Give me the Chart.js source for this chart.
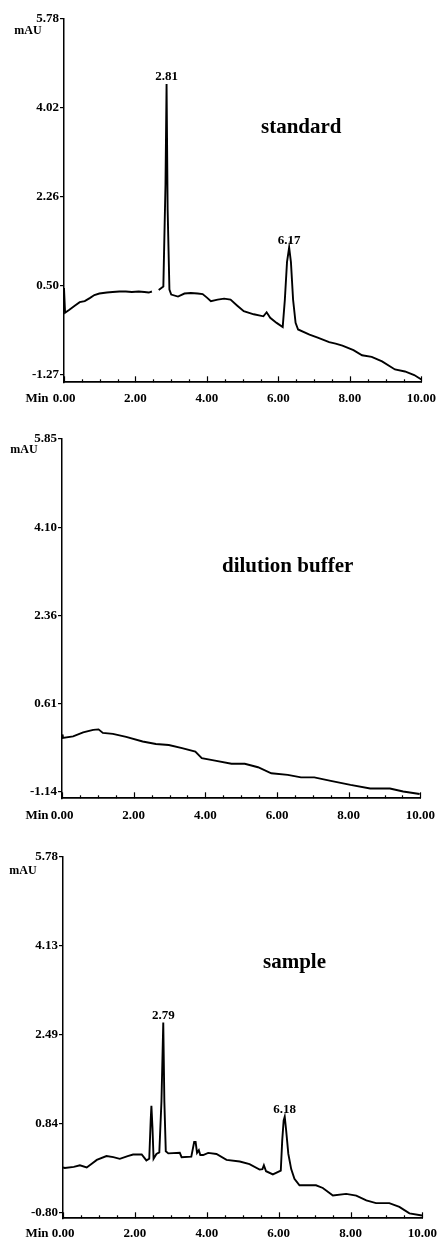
<!DOCTYPE html>
<html>
<head>
<meta charset="utf-8">
<script src="https://cdn.jsdelivr.net/npm/chart.js@4.4.1/dist/chart.umd.min.js"></script>
<style>
  html, body { margin: 0; padding: 0; background: #fff; }
  #wrap { position: relative; width: 445px; height: 1241px; overflow: hidden; }
  canvas { position: absolute; left: 0; }
</style>
</head>
<body>
<div id="wrap">
  <canvas id="c1" width="445" height="410" style="top:0px"></canvas>
  <canvas id="c2" width="445" height="416" style="top:410px"></canvas>
  <canvas id="c3" width="445" height="415" style="top:826px"></canvas>
</div>
<script>
// ---------- DATA ----------
const timeTicks = [0, 2, 4, 6, 8, 10];

// standard
const stdTime   = [0, 0.03, 0.15, 0.30, 0.44, 0.58, 0.72, 0.85, 0.99, 1.20, 1.36, 1.55, 1.73, 1.90, 2.09, 2.25, 2.37, 2.46, 2.55, 2.65, 2.78, 2.84, 2.87, 2.90, 2.95, 3.00, 3.19, 3.37, 3.55, 3.74, 3.88, 4.00, 4.11, 4.30, 4.48, 4.66, 4.85, 5.03, 5.31, 5.58, 5.67, 5.77, 5.95, 6.12, 6.18, 6.24, 6.30, 6.35, 6.41, 6.48, 6.55, 6.87, 7.10, 7.42, 7.60, 7.79, 8.10, 8.34, 8.61, 8.90, 9.26, 9.54, 9.80, 10.00];
const stdSignal = [0.45, -0.04, 0.02, 0.10, 0.17, 0.19, 0.25, 0.31, 0.34, 0.36, 0.37, 0.38, 0.38, 0.37, 0.38, 0.37, 0.36, 0.38, null, 0.41, 0.48, 2.50, 4.48, 2.00, 0.42, 0.32, 0.28, 0.34, 0.35, 0.34, 0.33, 0.26, 0.19, 0.22, 0.24, 0.22, 0.10, -0.01, -0.07, -0.11, -0.03, -0.14, -0.24, -0.32, 0.22, 0.96, 1.25, 0.96, 0.22, -0.24, -0.37, -0.47, -0.53, -0.62, -0.65, -0.69, -0.78, -0.88, -0.91, -1.00, -1.16, -1.20, -1.27, -1.36];
const stdTicks  = [5.78, 4.02, 2.26, 0.50, -1.27];
const stdPeakTimes  = [2.87, 6.30];
const stdPeakLabels = ['2.81', '6.17'];

// dilution buffer
const bufTime   = [0, 0.02, 0.31, 0.59, 0.87, 1.02, 1.14, 1.42, 1.79, 2.25, 2.62, 2.98, 3.35, 3.72, 3.90, 4.27, 4.73, 5.10, 5.47, 5.84, 6.30, 6.67, 7.04, 7.50, 8.05, 8.60, 9.15, 9.52, 9.98];
const bufSignal = [0.00, -0.07, -0.04, 0.04, 0.09, 0.10, 0.03, 0.01, -0.05, -0.14, -0.19, -0.21, -0.27, -0.34, -0.47, -0.52, -0.58, -0.58, -0.65, -0.77, -0.80, -0.85, -0.85, -0.92, -1.00, -1.07, -1.07, -1.13, -1.18];
const bufTicks  = [5.85, 4.10, 2.36, 0.61, -1.14];

// sample
const smpTime   = [0, 0.05, 0.30, 0.47, 0.66, 0.80, 0.94, 1.21, 1.40, 1.58, 1.80, 1.95, 2.19, 2.32, 2.40, 2.44, 2.46, 2.49, 2.52, 2.60, 2.68, 2.74, 2.79, 2.82, 2.86, 2.93, 3.25, 3.30, 3.57, 3.65, 3.69, 3.73, 3.78, 3.82, 3.90, 4.04, 4.27, 4.55, 4.92, 5.19, 5.47, 5.55, 5.59, 5.65, 5.84, 6.06, 6.10, 6.14, 6.17, 6.21, 6.27, 6.35, 6.44, 6.58, 7.04, 7.23, 7.51, 7.88, 8.16, 8.44, 8.71, 9.08, 9.36, 9.64, 9.99];
const smpSignal = [0.03, 0.02, 0.04, 0.07, 0.03, 0.10, 0.17, 0.24, 0.22, 0.19, 0.24, 0.27, 0.27, 0.16, 0.19, 0.90, 1.17, 0.76, 0.19, 0.28, 0.31, 1.26, 2.71, 1.26, 0.33, 0.29, 0.30, 0.22, 0.23, 0.50, 0.50, 0.30, 0.35, 0.26, 0.26, 0.30, 0.28, 0.17, 0.14, 0.09, -0.01, 0.00, 0.07, -0.04, -0.10, -0.03, 0.53, 0.90, 0.97, 0.71, 0.28, 0.00, -0.18, -0.30, -0.30, -0.35, -0.49, -0.46, -0.49, -0.58, -0.63, -0.63, -0.70, -0.82, -0.86];
const smpTicks  = [5.78, 4.13, 2.49, 0.84, -0.80];
const smpPeakTimes  = [2.79, 6.17];
const smpPeakLabels = ['2.79', '6.18'];

// ---------- DRAWING ----------
const SERIF = '"Liberation Serif", "Times New Roman", serif';

const annotPlugin = {
  id: 'annot',
  afterDraw(chart) {
    const o = chart.options.plugins.annot;
    const ctx = chart.ctx;
    const xs = chart.scales.x, ys = chart.scales.y;
    const area = chart.chartArea;
    ctx.save();
    ctx.fillStyle = '#000';
    ctx.strokeStyle = '#000';
    // inward minor / major ticks on time axis
    ctx.lineWidth = 1.2;
    for (let t = 0; t <= 10.001; t += 0.5) {
      const px = Math.round(xs.getPixelForValue(t)) + 0.5;
      const len = (Math.abs(t / 2 - Math.round(t / 2)) < 1e-6) ? 6 : 3;
      ctx.beginPath();
      ctx.moveTo(px, area.bottom);
      ctx.lineTo(px, area.bottom - len);
      ctx.stroke();
    }
    // peak labels
    ctx.font = 'bold 13px ' + SERIF;
    ctx.textAlign = 'center';
    ctx.textBaseline = 'alphabetic';
    (o.peakTimes || []).forEach((t, i) => {
      const idx = o.times.indexOf(t);
      const v = o.values[idx];
      ctx.fillText(o.peakLabels[i], xs.getPixelForValue(t), ys.getPixelForValue(v) - 4);
    });
    // title
    ctx.font = 'bold 21px ' + SERIF;
    ctx.textAlign = 'left';
    ctx.fillText(o.title, o.titleX, o.titleY);
    // mAU
    ctx.font = 'bold 12px ' + SERIF;
    ctx.textAlign = 'center';
    ctx.textBaseline = 'middle';
    ctx.fillText('mAU', o.mauX, area.top + o.mauDy);
    // Min
    ctx.font = 'bold 13px ' + SERIF;
    ctx.fillText('Min', 37, area.bottom + o.minDy);
    ctx.restore();
  }
};

function makeChart(id, cfg) {
  const pts = cfg.times.map((t, i) => ({ x: t, y: cfg.values[i] }));
  const canvas = document.getElementById(id);
  return new Chart(canvas, {
    type: 'line',
    data: {
      datasets: [{
        data: pts,
        borderColor: '#000',
        borderWidth: 1.9,
        pointRadius: 0,
        tension: 0,
        fill: false,
        spanGaps: false
      }]
    },
    options: {
      responsive: false,
      animation: false,
      devicePixelRatio: 1,
      layout: { padding: { left: 0, top: cfg.top, right: 445 - cfg.right, bottom: 0 } },
      plugins: {
        legend: { display: false },
        tooltip: { enabled: false },
        annot: {
          times: cfg.times, values: cfg.values,
          peakTimes: cfg.peakTimes, peakLabels: cfg.peakLabels,
          title: cfg.title, titleX: cfg.titleX, titleY: cfg.titleY,
          mauX: cfg.mauX, mauDy: cfg.mauDy, minDy: cfg.minDy
        }
      },
      scales: {
        x: {
          type: 'linear',
          min: 0, max: 10,
          afterBuildTicks: s => { s.ticks = timeTicks.map(v => ({ value: v })); },
          afterFit: s => { s.height = cfg.h - cfg.bottom; },
          grid: { display: true, drawOnChartArea: false, drawTicks: false },
          border: { display: true, color: '#000', width: 1.8 },
          ticks: {
            padding: cfg.xPad,
            color: '#000',
            font: { family: SERIF, weight: 'bold', size: 13 },
            maxRotation: 0, autoSkip: false,
            callback: v => Number(v).toFixed(2)
          }
        },
        y: {
          type: 'linear',
          min: cfg.ymin, max: cfg.ticks[0],
          afterBuildTicks: s => { s.ticks = cfg.ticks.map(v => ({ value: v })); },
          afterFit: s => { s.width = cfg.left; },
          grid: { display: true, drawOnChartArea: false, drawTicks: true, tickLength: 4, color: '#000', lineWidth: 1.2 },
          border: { display: true, color: '#000', width: 1.5 },
          ticks: {
            padding: 1,
            color: '#000',
            font: { family: SERIF, weight: 'bold', size: 13 },
            autoSkip: false,
            callback: v => Number(v).toFixed(2)
          }
        }
      }
    },
    plugins: [annotPlugin]
  });
}

makeChart('c1', {
  times: stdTime, values: stdSignal, ticks: stdTicks, ymin: -1.414,
  peakTimes: stdPeakTimes, peakLabels: stdPeakLabels,
  h: 410, left: 64, right: 427, top: 18.3, bottom: 382.3, xPad: 9,
  title: 'standard', titleX: 261, titleY: 132.7,
  mauX: 28, mauDy: 13, minDy: 16
});
makeChart('c2', {
  times: bufTime, values: bufSignal, ticks: bufTicks, ymin: -1.265,
  peakTimes: [], peakLabels: [],
  h: 416, left: 62, right: 424, top: 29, bottom: 388.3, xPad: 10,
  title: 'dilution buffer', titleX: 222, titleY: 162.3,
  mauX: 24, mauDy: 11, minDy: 17
});
makeChart('c3', {
  times: smpTime, values: smpSignal, ticks: smpTicks, ymin: -0.911,
  peakTimes: smpPeakTimes, peakLabels: smpPeakLabels,
  h: 415, left: 63, right: 423, top: 30.7, bottom: 392.3, xPad: 8,
  title: 'sample', titleX: 263, titleY: 141.7,
  mauX: 23, mauDy: 14, minDy: 15
});
</script>
</body>
</html>
